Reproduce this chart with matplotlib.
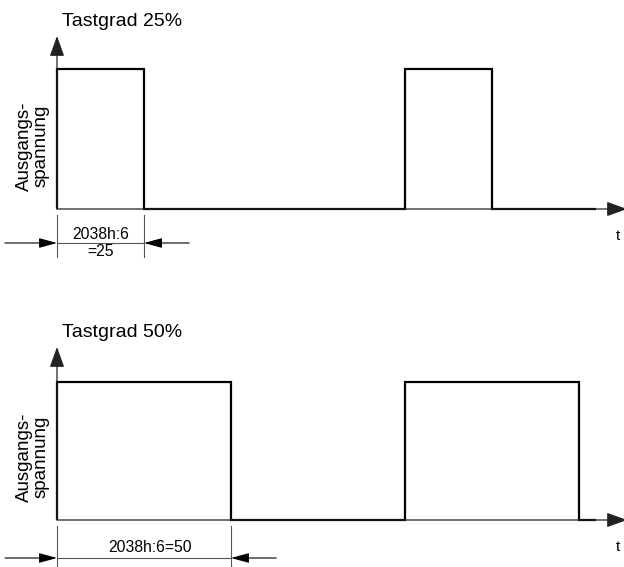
import matplotlib
matplotlib.use("Agg")
import matplotlib.pyplot as plt

# ---- data ----
duty_cycles = [25, 50]              # percent of period
period = 100                        # one period in time units
pulse_starts = [0, 100]             # start of each pulse
t_end = 155                         # end of drawn waveform
titles = ["Tastgrad 25%", "Tastgrad 50%"]
ylabel = "Ausgangs-\nspannung"
dim_labels = ["2038h:6\n=25", "2038h:6=50"]
xlabel = "t"

plt.rcParams['font.family'] = ['Liberation Sans', 'DejaVu Sans']

W, H = 624, 567
fig = plt.figure(figsize=(W / 100, H / 100), dpi=100)

# pixel layout of each panel: (top_px, bottom_px, baseline_px, high_px)
panels = [(0, 283, 209, 69), (283, 567, 520, 382)]
x0_px, px_per_t = 57, 3.48

def tx(px):
    return (px - x0_px) / px_per_t

for i, (d, title, dlab) in enumerate(zip(duty_cycles, titles, dim_labels)):
    top, bot, base, high = panels[i]
    scale = base - high
    def vy(py):
        return (base - py) / scale
    ax = fig.add_axes([0, 1 - bot / H, 1, (bot - top) / H])
    ax.set_xlim(tx(0), tx(W))
    ax.set_ylim(vy(bot), vy(top))
    ax.axis('off')

    # waveform
    t, v = [], []
    for s in pulse_starts:
        t += [s, s, s + d, s + d]
        v += [0, 1, 1, 0]
    t.append(t_end)
    v.append(0)
    ax.plot(t, v, color='black', lw=1.6, solid_joinstyle='miter',
            solid_capstyle='butt', zorder=3)

    # axes with arrows
    axis_kw = dict(arrowstyle='-|>,head_length=1.25,head_width=0.45',
                   mutation_scale=10, lw=0.9, color='#222222',
                   shrinkA=0, shrinkB=0)
    ax.annotate('', xy=(0, vy(base - 173)), xytext=(0, 0),
                arrowprops=axis_kw, annotation_clip=False)
    ax.annotate('', xy=(tx(627), 0), xytext=(0, 0),
                arrowprops=axis_kw, annotation_clip=False)

    # labels
    ax.text(tx(62), vy(base - 183), title, fontsize=14,
            ha='left', va='baseline')
    ax.text(tx(33), vy(base - 63), ylabel, fontsize=13.5, rotation=90,
            ha='center', va='center', linespacing=0.95, multialignment='center')
    ax.text(tx(618), vy(base + 27), xlabel, fontsize=11,
            ha='center', va='center')

    # dimension
    dim_y = vy(base + 34 if i == 0 else base + 38)
    ext_kw = dict(color='#555555', lw=0.8)
    ax.plot([0, 0], [vy(base + 6), vy(base + 48)], **ext_kw)
    ax.plot([d, d], [vy(base + 6), vy(base + 48)], **ext_kw)
    ax.plot([0, d], [dim_y, dim_y], **ext_kw)
    dim_kw = dict(arrowstyle='-|>,head_length=1.1,head_width=0.3',
                  mutation_scale=10, lw=0.8, color='black',
                  shrinkA=0, shrinkB=0)
    ax.annotate('', xy=(0, dim_y), xytext=(tx(5), dim_y), arrowprops=dim_kw,
                annotation_clip=False)
    ax.annotate('', xy=(d, dim_y), xytext=(d + 13, dim_y), arrowprops=dim_kw,
                annotation_clip=False)
    if i == 0:
        ax.text(d / 2, dim_y, dlab, fontsize=11.3, ha='center', va='center',
                linespacing=1.15)
    else:
        ax.text(d / 2 + 1.7, vy(base + 28), dlab, fontsize=11.3,
                ha='center', va='center')

fig.savefig("out.png", dpi=100)
